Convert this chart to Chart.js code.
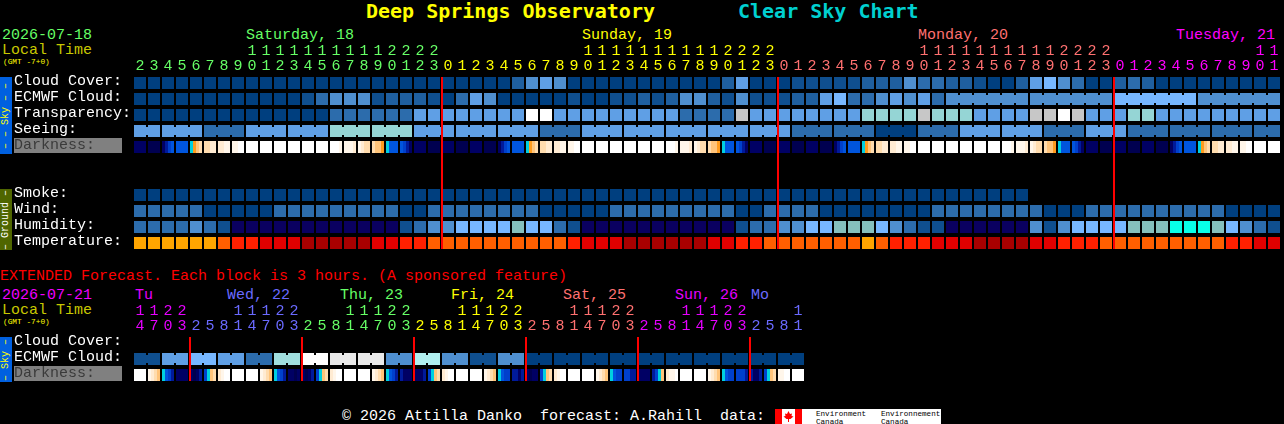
<!DOCTYPE html>
<html>
<head>
<meta charset="utf-8">
<title>Clear Sky Chart</title>
<script src="https://cdn.jsdelivr.net/npm/chart.js@4"></script>
<style>
  html, body { margin: 0; padding: 0; background: #000; width: 1284px; height: 424px; overflow: hidden; }
  body { position: relative; font-family: "Liberation Mono", monospace; }
  canvas { position: absolute; left: 0; z-index: 1; }
  .t { position: absolute; white-space: pre; line-height: 20px; }
  .box { position: absolute; }
  .side { position: absolute; left: 0; width: 12px; font-size: 10px; line-height: 12px; text-align: center;
          writing-mode: vertical-rl; transform: rotate(180deg); white-space: pre; }
</style>
</head>
<body>
<canvas id="main" width="1284" height="211" style="top:40px"></canvas>
<canvas id="ext" width="1284" height="83" style="top:300px"></canvas>
<script>
const FONT = '"Liberation Mono", monospace';

// hour labels along the top of each chart
const hours = [2,3,4,5,6,7,8,9,10,11,12,13,14,15,16,17,18,19,20,21,22,23,
  0,1,2,3,4,5,6,7,8,9,10,11,12,13,14,15,16,17,18,19,20,21,22,23,
  0,1,2,3,4,5,6,7,8,9,10,11,12,13,14,15,16,17,18,19,20,21,22,23,
  0,1,2,3,4,5,6,7,8,9,10,11];
const extHours = [14,17,20,23,
  2,5,8,11,14,17,20,23, 2,5,8,11,14,17,20,23, 2,5,8,11,14,17,20,23,
  2,5,8,11,14,17,20,23, 2,5,8,11,14,17,20,23, 2,5,8,11];

const dayStarts = [0,22,46,70];
const dayColors = ['#66ff66','#ffff00','#ff7070','#ff00ff'];
const extDayStarts = [0,4,12,20,28,36,44];
const extDayColors = ['#e600ff','#6a6aff','#66ff66','#ffff00','#ff7070','#e600ff','#6a6aff'];

const mainRows = ['Cloud Cover:','ECMWF Cloud:','Transparency:','Seeing:','Darkness:','','',
  'Smoke:','Wind:','Humidity:','Temperature:'];
const extRows = ['Cloud Cover:','ECMWF Cloud:','Darkness:'];

// colour levels, one per hour block
const skyPalette = ['#003f7f','#0f4f8f','#1f5f9f','#2c6cac','#4f8fcf','#5f9fe5','#77b7ff','#95d5d5',
  '#a0dede','#c7c7c7','#e9e9e9','#ffffff','#b0efef'];
const humidityPalette = ['#0a0060','#0f4f8f','#2c6cac','#4f8fcf','#77b7ff','#85c0bd','#08ffe8'];
const tempPalette = ['#ffa500','#ff5f00','#ff2000','#e00000','#a80000'];
const darkPalette = ['#000050','#000064','#001a9a','#0040cc','#0055dd','#00d0e0','#ff9c1e','#ffc47a',
  '#ffdcae','#ffebd2','#fff6ea','#ffffff'];

const cloudCover = [0,0,0,0,0,0,0,0,0,0,
  0,0,0,0,0,0,0,0,0,0,
  0,0,0,0,0,0,0,2,4,5,
  4,0,0,0,0,0,0,0,0,0,
  0,0,2,5,0,0,0,1,1,1,
  1,1,2,2,2,4,3,3,2,2,
  1,0,0,2,5,6,4,3,0,0,
  2,3,2,0,0,0,0,0,0,0,0,0];
const ecmwfCloud = [0,0,0,0,0,0,0,0,0,0,
  0,0,1,3,4,4,4,1,2,2,
  2,1,0,3,5,4,0,0,0,0,
  0,1,0,0,1,1,2,1,2,4,
  4,2,1,4,1,1,1,2,2,5,
  6,3,3,4,5,4,5,3,4,4,
  4,4,4,4,4,4,4,4,4,4,
  6,6,6,6,6,6,4,4,4,4,4,4];
const ecmwfGroups = [58,64,70,76,82];
const transparency = [0,0,0,0,0,0,0,0,0,0,
  0,0,0,0,3,3,3,3,3,3,
  5,5,5,5,5,5,5,5,11,11,
  5,5,5,5,5,5,5,5,5,3,
  3,3,3,9,5,5,5,5,5,5,
  5,5,7,7,7,7,9,7,7,7,
  5,5,5,5,9,9,11,9,5,5,
  5,7,7,5,5,5,5,5,5,5,5,5];
const seeing = [5,5,5,5,5,3,3,3,5,5,
  5,5,5,5,7,7,7,7,7,7,
  5,5,5,5,5,5,5,5,5,3,
  3,3,5,5,5,5,5,5,5,5,
  5,5,5,5,5,5,5,3,3,3,
  3,3,3,0,0,0,3,3,3,5,
  5,5,5,5,5,3,3,3,5,5,
  5,3,3,3,3,3,3,3,3,3,3,3];
const seeingGroups = [0,2,5,8,11,14,17,20,23,26,29,32,35,38,41,44,47,50,53,56,59,62,65,68,71,74,77,80,82];
const smoke = [0,0,0,0,0,0,0,0,0,0,0,0,0,0,0,0,
  0,0,0,0,0,0,0,0,0,0,0,0,0,0,0,0,
  0,0,0,0,0,0,0,0,0,0,0,0,0,0,0,0,
  0,0,0,0,0,0,0,0,0,0,0,0,0,0,0,0];
const wind = [3,3,3,3,3,0,0,0,0,0,
  3,3,3,3,3,3,3,3,3,0,
  0,3,3,3,3,3,3,3,3,0,
  0,0,0,0,3,3,3,3,3,3,
  3,3,3,0,0,3,3,3,3,0,
  0,0,0,0,0,0,0,3,3,3,
  3,3,3,3,3,0,0,0,3,3,
  3,3,3,3,3,3,3,3,0,0,0,0];
const humidity = [2,2,2,2,3,2,1,0,0,0,
  0,0,0,0,0,0,0,0,0,1,
  2,3,3,4,4,4,4,5,4,4,
  2,1,0,0,0,0,0,0,0,0,
  0,0,0,1,2,2,3,3,4,4,
  5,5,5,4,3,2,1,1,0,0,
  0,0,0,0,3,1,3,4,4,4,
  4,5,5,5,6,6,6,5,4,3,2,1];
const temperature = [0,0,0,0,0,0,1,2,2,3,
  3,3,4,4,4,4,4,3,3,2,
  2,1,1,1,1,1,1,1,1,1,
  1,2,3,3,3,4,4,4,4,4,
  4,3,3,2,2,1,1,1,1,1,
  1,1,0,1,2,2,2,3,3,3,
  4,4,4,4,3,3,2,2,2,1,
  1,1,1,1,1,1,1,1,2,2,3,3];

// darkness changes inside a block, so each block holds four levels
const darkness = [
  [1,1,1,1],[0,0,0,0],[1,2,3,4],[4,4,4,4],
  [5,6,7,8],[8,8,9,9],[9,9,10,10],[10,10,11,11],[11,11,11,11],[11,11,11,11],[11,11,11,11],[11,11,11,11],
  [11,11,11,11],[11,11,11,11],[11,11,11,10],[10,10,10,9],[10,9,8,8],[8,7,7,6],[5,4,4,4],[4,3,2,1],
  [1,1,1,1],[0,0,0,0],[1,1,1,1],[0,0,0,0],[1,1,1,1],[0,0,0,0],[1,2,3,4],[4,4,4,4],
  [5,6,7,8],[8,8,9,9],[9,9,10,10],[10,10,11,11],[11,11,11,11],[11,11,11,11],[11,11,11,11],[11,11,11,11],
  [11,11,11,11],[11,11,11,11],[11,11,11,10],[10,10,10,9],[10,9,8,8],[8,7,7,6],[5,4,4,4],[4,3,2,1],
  [1,1,1,1],[0,0,0,0],[1,1,1,1],[0,0,0,0],[1,1,1,1],[0,0,0,0],[1,2,3,4],[4,4,4,4],
  [5,6,7,8],[8,8,9,9],[9,9,10,10],[10,10,11,11],[11,11,11,11],[11,11,11,11],[11,11,11,11],[11,11,11,11],
  [11,11,11,11],[11,11,11,11],[11,11,11,10],[10,10,10,9],[10,9,8,8],[8,7,7,6],[5,4,4,4],[4,3,2,1],
  [1,1,1,1],[0,0,0,0],[1,1,1,1],[0,0,0,0],[1,1,1,1],[0,0,0,0],[1,2,3,4],[4,4,4,4],
  [5,6,7,8],[8,8,9,9],[9,9,10,10],[10,10,11,11],[11,11,11,11],[11,11,11,11]
];

const extEcmwf = [1,1,5,5,6,6,5,5,3,3,8,8,11,11,10,10,10,10,4,4,12,12,4,4,1,1,4,4,
  0,0,0,0,0,0,0,0,0,0,0,0,0,0,0,0,0,0,0,0];
const extGroups = [0,2,4,6,8,10,12,14,16,18,20,22,24,26,28,30,32,34,36,38,40,42,44,46,48];
const extDarkness = [
  [11,11,11,11],[10,9,8,7],[5,4,3,2],[1,1,1,1],[1,0,1,2],[3,5,7,8],[9,10,11,11],[11,11,11,11],
  [11,11,11,11],[10,9,8,7],[5,4,3,2],[1,1,0,1],[1,0,1,2],[3,5,7,8],[9,10,11,11],[11,11,11,11],
  [11,11,11,11],[10,9,8,7],[5,4,3,2],[2,1,1,1],[1,1,1,2],[3,5,7,8],[9,10,11,11],[11,11,11,11],
  [11,11,11,11],[10,9,8,7],[5,4,3,3],[2,2,1,2],[1,0,1,1],[3,5,7,8],[9,10,11,11],[11,11,11,11],
  [11,11,11,11],[10,9,8,7],[5,4,3,3],[3,3,2,2],[1,1,1,1],[2,3,5,7],[9,10,10,11],[11,11,11,11],
  [11,11,11,11],[10,9,8,7],[5,4,3,3],[3,3,3,2],[2,1,1,2],[3,5,7,8],[10,10,11,11],[11,11,11,11]
];

// red midnight markers, in block numbers, and how far down the rows they run
const midnights = [22,46,70];
const midnightRows = [-0.375,10.375];
const extMidnights = [4,12,20,28,36,44];
const extMidnightRows = [-0.375,2.375];

const CELL = 12 / 14;   // a block fills 12 of its 14 px

function rowDataset(row, values, palette) {
    return {
        data: values.map((v, i) => ({ x: [i, i + CELL], y: row })),
        backgroundColor: values.map(v => palette[v]),
        barThickness: 12, grouped: false, inflateAmount: 0, order: 1,
    };
}

// short links joining the blocks of one forecast step
function linkDataset(row, values, palette, groups) {
    const data = [], colors = [];
    for (let g = 0; g < groups.length - 1; g++) {
        for (let i = groups[g]; i < groups[g + 1] - 1; i++) {
            data.push({ x: [i + CELL, i + 1], y: row });
            colors.push(palette[values[i]]);
        }
    }
    return { data: data, backgroundColor: colors, barThickness: 8, grouped: false, inflateAmount: 0, order: 1 };
}

function darkDataset(row, cells) {
    const data = [], colors = [];
    const part = CELL / 4;
    cells.forEach((levels, i) => {
        levels.forEach((v, k) => {
            data.push({ x: [i + k * part, i + (k + 1) * part], y: row });
            colors.push(darkPalette[v]);
        });
    });
    return { data: data, backgroundColor: colors, barThickness: 12, grouped: false, inflateAmount: 0, order: 1 };
}

function lineDatasets(cols, rows) {
    return cols.map(c => ({
        type: 'line', indexAxis: 'x', order: 0,
        data: [{ x: c, y: rows[0] }, { x: c, y: rows[1] }],
        borderColor: '#ff0000', borderWidth: 2, pointRadius: 0, tension: 0,
    }));
}

function colorAt(index, starts, colors) {
    let c = colors[0];
    starts.forEach((s, k) => { if (index >= s) c = colors[k]; });
    return c;
}

function makeChart(id, rowLabels, hourList, starts, colors, datasets) {
    return new Chart(document.getElementById(id), {
        type: 'bar',
        data: { datasets: datasets },
        options: {
            indexAxis: 'y',
            responsive: false,
            animation: false,
            devicePixelRatio: 1,
            layout: { padding: { left: 14 } },
            plugins: { legend: { display: false }, tooltip: { enabled: false } },
            scales: {
                x: {
                    type: 'linear', position: 'top', bounds: 'data', offset: false,
                    min: 0, max: 1150 / 14,
                    grid: { display: false, drawTicks: false }, border: { display: false },
                    afterFit: s => { s.height = 35; s.paddingLeft = 0; s.paddingRight = 0; },
                    afterBuildTicks: s => { s.ticks = hourList.map((h, i) => ({ value: i + CELL / 2 })); },
                    ticks: {
                        autoSkip: false, maxRotation: 0, minRotation: 0, padding: 1,
                        font: { family: FONT, size: 15, lineHeight: 1 },
                        color: ctx => colorAt(ctx.index, starts, colors),
                        callback: (v, i) => {
                            const h = hourList[i];
                            return [h >= 10 ? String(Math.floor(h / 10)) : '', String(h % 10)];
                        },
                    },
                },
                y: {
                    type: 'linear', reverse: true, bounds: 'data', offset: false,
                    min: -0.5, max: rowLabels.length - 0.5,
                    grid: { display: false, drawTicks: false }, border: { display: false },
                    afterFit: s => { s.width = 120; s.paddingTop = 0; s.paddingBottom = 0; },
                    afterBuildTicks: s => { s.ticks = rowLabels.map((l, i) => ({ value: i })); },
                    ticks: {
                        autoSkip: false, crossAlign: 'far', padding: 0, labelOffset: -2,
                        font: { family: FONT, size: 15 },
                        color: ctx => rowLabels[ctx.index] === 'Darkness:' ? '#3a3a3a' : '#ffffff',
                        callback: (v, i) => rowLabels[i],
                    },
                },
            },
        },
    });
}

function addText(str, x, y, size, color, bold) {
    const el = document.createElement('div');
    el.className = 't';
    el.textContent = str;
    el.style.cssText = `left:${x}px;top:${y - 10}px;font-size:${size}px;color:${color};` +
        (bold ? 'font-weight:bold;font-family:"DejaVu Sans Mono",monospace;' : '');
    document.body.appendChild(el);
}

function addBox(x, y, w, h, color) {
    const el = document.createElement('div');
    el.className = 'box';
    el.style.cssText = `left:${x}px;top:${y}px;width:${w}px;height:${h}px;background:${color};`;
    document.body.appendChild(el);
}

function addSide(str, y, h, bg, color) {
    const el = document.createElement('div');
    el.className = 'side';
    el.textContent = str;
    el.style.cssText = `top:${y}px;height:${h}px;background:${bg};color:${color};`;
    document.body.appendChild(el);
}

addText('Deep Springs Observatory', 366, 11, 20, '#ffff00', true);
addText('Clear Sky Chart', 738, 11, 20, '#00d0d0', true);
addText('2026-07-18', 2, 36, 15, '#66ff66');
addText('Local Time', 2, 51, 15, '#c8c800');
addText('(GMT -7+0)', 3, 62, 7.8, '#ffff00');
addText('Saturday, 18', 246, 36, 15, '#66ff66');
addText('Sunday, 19', 582, 36, 15, '#ffff00');
addText('Monday, 20', 918, 36, 15, '#ff7070');
addText('Tuesday, 21', 1176, 36, 15, '#ff00ff');

addText('EXTENDED Forecast. Each block is 3 hours. (A sponsored feature)', 0, 277, 15, '#ff0000');
addText('2026-07-21', 2, 296, 15, '#f000ff');
addText('Local Time', 2, 311, 15, '#c8c800');
addText('(GMT -7+0)', 3, 322, 7.8, '#ffff00');
addText('Tu', 135, 296, 15, extDayColors[0]);
addText('Wed, 22', 227, 296, 15, extDayColors[1]);
addText('Thu, 23', 340, 296, 15, extDayColors[2]);
addText('Fri, 24', 451, 296, 15, extDayColors[3]);
addText('Sat, 25', 563, 296, 15, extDayColors[4]);
addText('Sun, 26', 675, 296, 15, extDayColors[5]);
addText('Mo', 751, 296, 15, extDayColors[6]);

addBox(14, 138, 108, 15, '#808080');
addBox(14, 366, 108, 15, '#808080');
addSide('\u2013 \u2013 Sky \u2013 \u2013', 77, 77, '#0060e0', '#ffff00');
addSide('\u2013 Ground \u2013', 189, 61, '#4f6600', '#ffffff');
addSide('\u2013 Sky \u2013', 337, 45, '#0060e0', '#ffff00');

addText('\u00a9 2026 Attilla Danko  forecast: A.Rahill  data:', 342, 417, 15, '#ffffff');

// Environment Canada banner at the bottom right
const banner = document.createElement('div');
banner.style.cssText = 'position:absolute;left:775px;top:409px;width:166px;height:15px;background:#fff;overflow:hidden;color:#000;font-size:7.6px;line-height:7.5px;';
banner.innerHTML = '<svg width="27" height="15" style="position:absolute;left:0;top:0">' +
    '<rect width="7" height="15" fill="#f00"/><rect x="20" width="7" height="15" fill="#f00"/>' +
    '<polygon points="13.5,2 15,5 17,4.5 16.5,7 18.5,7.5 15.5,10 14,10 14,13 13,13 13,10 11.5,10 8.5,7.5 10.5,7 10,4.5 12,5" fill="#f00"/></svg>' +
    '<div style="position:absolute;left:41px;top:2px;white-space:pre">Environment\nCanada</div>' +
    '<div style="position:absolute;left:106px;top:2px;white-space:pre">Environnement\nCanada</div>';
document.body.appendChild(banner);

makeChart('main', mainRows, hours, dayStarts, dayColors, [
    ...lineDatasets(midnights, midnightRows),
    rowDataset(0, cloudCover, skyPalette),
    rowDataset(1, ecmwfCloud, skyPalette),
    linkDataset(1, ecmwfCloud, skyPalette, ecmwfGroups),
    rowDataset(2, transparency, skyPalette),
    rowDataset(3, seeing, skyPalette),
    linkDataset(3, seeing, skyPalette, seeingGroups),
    darkDataset(4, darkness),
    rowDataset(7, smoke, skyPalette),
    rowDataset(8, wind, skyPalette),
    rowDataset(9, humidity, humidityPalette),
    rowDataset(10, temperature, tempPalette),
]);

makeChart('ext', extRows, extHours, extDayStarts, extDayColors, [
    ...lineDatasets(extMidnights, extMidnightRows),
    rowDataset(1, extEcmwf, skyPalette),
    linkDataset(1, extEcmwf, skyPalette, extGroups),
    darkDataset(2, extDarkness),
]);
</script>
</body>
</html>
